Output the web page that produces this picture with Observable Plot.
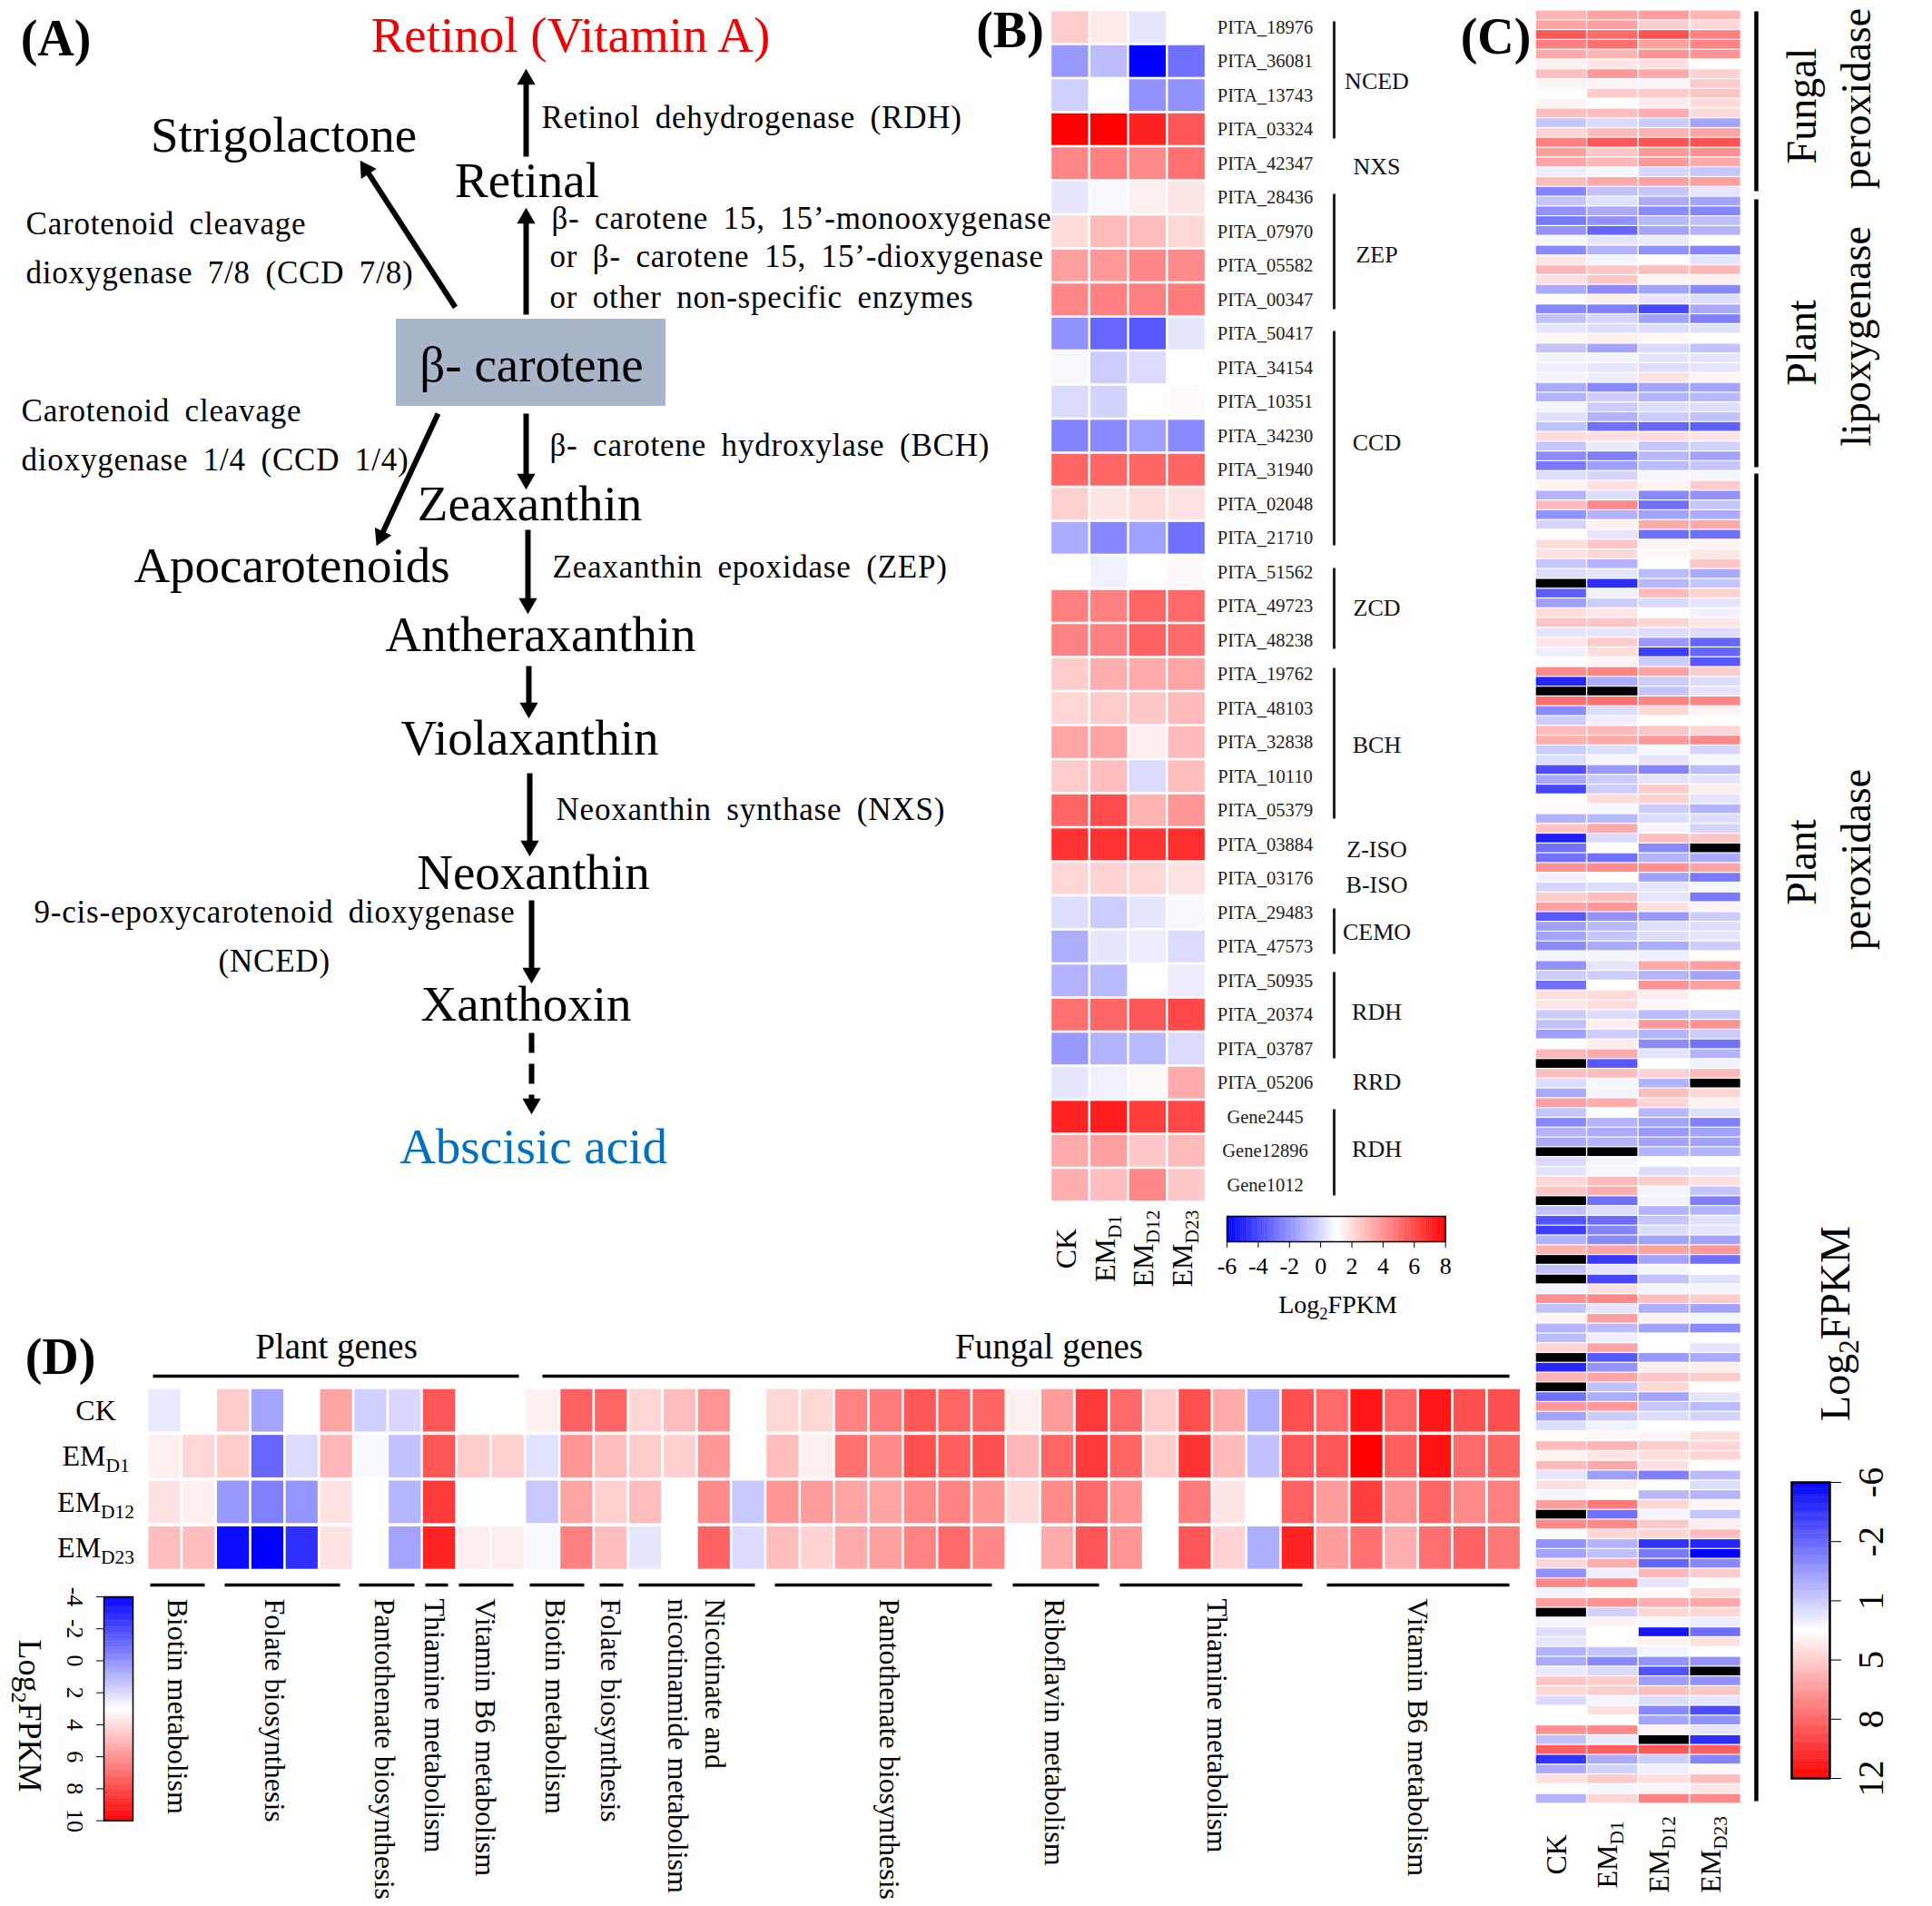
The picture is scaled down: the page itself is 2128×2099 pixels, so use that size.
<!DOCTYPE html>
<html>
<head>
<meta charset="utf-8">
<style>
html,body{margin:0;padding:0;background:#fff;}
#page{position:relative;width:2128px;height:2099px;overflow:hidden;background:#fff;}
#page>svg,#page>div{position:absolute;}
.enz text{word-spacing:7px;letter-spacing:.8px;}
</style>
<script src="https://cdn.jsdelivr.net/npm/d3@7"></script>
<script src="https://cdn.jsdelivr.net/npm/@observablehq/plot@0.6"></script>
</head>
<body>
<div id="page"></div>
<script>
const serif = "'Liberation Serif','Times New Roman',serif";
const samples = ["CK", "EMD1", "EMD12", "EMD23"];

// Panel B: carotenoid pathway genes (Log2FPKM per sample)
const geneIds = ["PITA_18976","PITA_36081","PITA_13743","PITA_03324","PITA_42347","PITA_28436","PITA_07970","PITA_05582","PITA_00347","PITA_50417","PITA_34154","PITA_10351","PITA_34230","PITA_31940","PITA_02048","PITA_21710","PITA_51562","PITA_49723","PITA_48238","PITA_19762","PITA_48103","PITA_32838","PITA_10110","PITA_05379","PITA_03884","PITA_03176","PITA_29483","PITA_47573","PITA_50935","PITA_20374","PITA_03787","PITA_05206","Gene2445","Gene12896","Gene1012"];
const geneValues = [
[2.4,1.6,.3,1],[-1.8,-.8,-6,-2.9],[-.3,1,-2,-2],[8,8,7.1,5.6],[4.3,4.5,4.2,4.9],
[.3,.8,1.4,1.7],[2,2.9,2.8,2.1],[3.6,3.8,4.3,4.2],[4.3,4.5,4.5,4.6],
[-2,-3.2,-3.6,.3],[.8,-.4,0,1],[0,-.2,1,1.1],[-2.4,-2.2,-1.6,-2.2],[5.2,5.2,5.2,5.2],[2.3,1.7,2,1.8],[-1.3,-2.3,-1.6,-2.9],
[1,.6,1,1.2],[4.5,4.5,5.2,5.1],[4.4,4.5,5.3,5.1],
[2.4,3.2,3.3,3.5],[2.1,2.4,2.5,2.9],[3.5,3.5,1.5,2.9],[2.4,2.8,0,2.8],[5.2,5.9,3.1,3.9],
[6.6,6.6,6.6,6.7],[2.1,2.2,2.1,1.8],[.1,-.4,.3,.8],[-1.2,.3,.5,0],
[-1.1,-.9,1,.5],[4.9,5.2,5.6,6],[-1.8,-1.1,-.9,0],[.3,.6,1.2,3.3],
[7,7.2,6.3,6],[3.3,3.6,2.5,2.9],[3.2,2.8,4.3,2.5]];

// Panel C: enzyme families (null = no expression, drawn black)
const fungalPeroxidase = [
[5.7,6.2,6.4,5.7],[6.2,6.4,4.8,4.4],[8.9,8.2,9.1,7.5],[7.5,8,6.4,7.3],[6,5.7,6.8,6.8],[3.5,3.9,4.1,3],
[5.3,6.6,6,4.6],[3.4,3.4,3.4,4.8],[3,4.8,4.8,5],[3.4,3,3.7,4.3],[5.3,5.3,5.9,4.3],[1,1.7,1.2,-.2],
[4.5,5.4,5.7,6.2],[7.5,8.9,9.1,9.1],[6.4,5,6.6,6.8],[6.2,5.5,6.6,6],[2.4,2.7,1.5,1],[5.3,6,6.3,6.4]];
const plantLipoxygenase = [
[-1.3,.8,1,2.1],[1,1.9,.1,-.2],[-.8,0,-1.1,-1.3],[-1.8,-.9,.5,.8],[-.8,-2.4,-.2,.3],[2.7,2.1,2.3,3],
[-1.1,.3,-.9,-1.3],[3.9,2.6,3,2.1],[5.5,5,5.3,5.5],[4.1,5,3.4,3.6],[0,-1.1,-.3,-1.2],[3,3.6,2.1,1.8],
[-1.2,-1.5,-3.5,0],[.8,1.5,-.3,-1.5],[2.1,1.8,1.8,1.9],[3.3,3.6,3.3,3],[.9,-.2,1.7,.8],[2.6,2.6,2.1,2.1],
[2.4,2.1,1.8,2.1],[2.6,2.4,4.1,3.4],[0,-1.2,-.2,-.2],[.3,1.2,.3,.5],[2.6,1.2,1.8,1.8],[1.9,.3,1.2,.8],
[.8,-2,-2.4,-2.6],[4.2,4.2,4.2,3.9],[1,2.3,1,1.4],[-1.1,-1.5,.5,-.2],[-1.7,-.4,.6,1]];
const plantPeroxidase = [
[1.8,1.5,2.7,2.7],[3.4,4.1,3.4,4.8],[.3,1.8,-1.2,-.8],[5.4,7.2,-2.1,1],[-.8,.3,-.3,.1],[1.5,3.5,6,6],
[3,2.1,-2,-2],[4.2,5,3.4,3.4],[4.1,4.4,3.3,3.9],[1,.3,3,5],[1.8,2.1,.6,0],[null,-4.4,.5,.9],
[-2.7,2.5,5.4,4.6],[-.4,1.2,1.7,2.1],[4.2,3.9,3,2.5],[5.1,5.1,4.5,3.9],[2.1,2.1,1.8,1.8],[3.9,4.8,-.6,-2.4],
[2.4,4.2,-3.8,-2.4],[3,3.4,1.2,-2.9],[7.2,7.3,6.3,4.8],[-4.7,.1,1.2,1.8],[null,null,.9,2.1],[8.1,8.1,7.3,7.3],
[-1.1,1.8,4.4,3.4],[1.2,2.4,3,3],[5.4,5.5,5,4.5],[5.9,6,6.6,7.2],[1.2,1.8,2.7,1.5],[1.8,2.7,2.1,2.7],
[-3.3,-.6,-1.3,.6],[0,1.2,2.1,2.1],[-3.5,1.2,4.8,3.6],[3,4.3,4.6,2.1],[3.2,2.7,1.2,.3],[.3,.5,1.8,1.8],
[5,6,2.7,1.5],[-4.9,1.7,5.3,5],[-2,3,-1.2,null],[-2,-2,.3,0],[6.8,7.1,6.9,6.2],[2.5,3,-.3,-1.7],
[1.5,1.8,2.1,2.7],[4.8,5.3,2.1,-1.7],[6.2,6.6,4.1,3.4],[-2.9,-.8,-.6,1.2],[-.4,.5,1.8,1.8],[-.3,1,1.8,2.1],
[-1.1,0,.1,1.2],[2.6,2.6,2.4,3],[-.8,2.1,6,6.4],[1.2,1.2,.3,-.3],[-2.1,3,6.8,6.4],[4.2,4.3,3.6,3],
[3.9,4.2,3.3,3],[1.2,1.8,.6,1],[.8,3.6,6.6,6.8],[-.4,1.2,.3,1.2],[3,3.7,-1.1,-2],[5.5,6,2.1,.3],
[null,-2.9,3,2.5],[5.3,5.3,4.6,5.4],[1.8,2.7,.3,null],[0,2.6,5.3,4.5],[6.4,5.9,4.5,3.5],[1,3,.5,1.9],
[-1.2,.3,-.3,-1.5],[.3,0,-.6,-.3],[0,.3,-.2,-.3],[null,null,.3,.3],[1.7,2.7,3,3],[2.1,2.7,1.8,2.1],
[4.4,5.4,4.8,4.1],[5,5.9,2.6,.9],[null,-2,2.6,-1.5],[.8,1.8,.3,.3],[-3.1,-2.2,1,1.9],[-3.8,-1.3,1.8,2.1],
[.3,-1.2,-.3,-.3],[5.7,6.2,6.3,6.6],[null,-4,-.3,-2],[.8,2.1,2.7,3],[null,-3.5,.8,1.9],[2.6,4.1,2.6,2.6],
[6.8,7.2,5.3,4.8],[.8,2.1,.1,-.3],[3.4,6.4,3.5,2.6],[.3,.6,-.3,-1.2],[.6,2.4,3,3],[4.5,6.2,3,2.1],
[null,-2.9,-.6,0],[-4.7,-.8,3.6,3.6],[5.7,6.2,5,4.8],[null,.8,4.4,3],[-2,.1,-.2,2.1],[6.6,6.6,1,.6],
[-.2,1.2,1.8,1.4],[1.8,2.5,3,3],[3,3.3,3.4,4.2],[5.4,5.7,4.8,4.5],[3.4,3.9,4.2,4.5],[5.4,6,4.1,3],
[2.1,-.4,-1.5,.6],[4.1,3.6,3,1.8],[2.7,3,.5,.3],[6.4,7.7,4.4,3.4],[null,-2,2.6,1],[7.2,7.2,4.8,3.6],
[3,4.5,4.5,5.4],[-.9,.3,-4.2,-4.7],[-.3,.8,-1.7,-6],[4.5,5.9,-2.4,-1.2],[-.9,2.4,5.5,4.8],[7.2,7.2,2.1,3],
[2.6,3.3,3.2,4.4],[6.4,6.8,5.9,6],[null,1.4,4.4,4.4],[2.6,3.4,2.7,2.4],[1.8,3,-5.3,-2.1],[2.1,3,3.4,4.1],
[.3,.9,2.6,3],[0,-1.2,-.8,-.8],[2.3,1.7,-3.1,null],[5,4.8,-.4,-.8],[4.4,4.8,5.3,5],[1.7,2.6,1.8,2.1],
[3,4.1,-1.2,-3.3],[3,3,-.2,-.8],[6.9,7.2,3.4,2.1],[.8,2.3,null,-4.4],[8.6,8.6,8.9,8.6],[-4.2,0,1.2,-1.3],
[.1,1.4,2.4,3.3],[4.1,4.8,4.1,5.3],[3,2.7,3.4,3.9],[.3,4.5,7.5,7.2]];

// Panel D: vitamin genes, one array per sample
const vitaminCK = [2.4,3,4.4,.5,3,5.5,1.7,1.9,7.6,3,3,3.4,7.3,7.2,4.1,4.8,5.9,3,4.1,4.1,6.4,6.6,7.6,7.2,7.2,3.4,5.7,8.4,7.1,4.4,7.8,5.3,.8,7.8,7.1,9.4,7.2,9.4,7.8,7.8];
const vitaminD1 = [3.4,4.1,4.4,-1.2,2,5,2.8,1.3,7.6,4.4,4.3,2.2,5.9,4.8,4.4,4.3,5.8,3,4.8,3.4,6.9,6.2,7.8,7.4,7.8,5,7.2,8.4,7.2,4.4,8.6,4.9,1.3,7.6,7.6,10,7.4,9.5,7.1,7.2];
const vitaminD12 = [3.8,3.4,.2,-.5,.1,3.8,3,1,8.4,3,3,1.5,5.5,4.3,4.8,3,6.2,1.5,5.9,5.7,5.5,5.5,6.2,6.4,5.9,4,6.2,7.1,5.9,3,6.6,3.7,3,7.3,5.7,8.3,6,7.2,6.2,6.5];
const vitaminD23 = [4.8,4.8,-3.7,-4,-2.7,3.8,3,.5,9,3.5,3.5,2.8,6.5,4.8,2.3,3,7.3,2,4.8,4.2,5.3,5.6,6.4,7.1,6.3,3,5.3,7.6,5.9,3,7.6,4.2,.8,9,5.7,6.9,5.2,6.9,7.3,6.7];

// Legend ticks
const ticksB = [-6,-4,-2,0,2,4,6,8];
const ticksC = [-6,-2.4,1.2,4.8,8.4,12];
const ticksD = [-4,-2,0,2,4,6,8,10];

// Diagram layout: [text, x, y, colour]
const nodeLayout = [
["Retinol (Vitamin A)",628,39,"#f00000"],["Strigolactone",312,149,"#000"],["Retinal",580,199,"#000"],
["β- carotene",585,402,"#000"],["Zeaxanthin",583,555,"#000"],["Apocarotenoids",321,623,"#000"],
["Antheraxanthin",595,699,"#000"],["Violaxanthin",583,813,"#000"],["Neoxanthin",587,961,"#000"],
["Xanthoxin",579,1106,"#000"],["Abscisic acid",587,1263,"#0070c0"]];
const enzymeLayout = [
["Retinol dehydrogenase (RDH)",596,129],["Carotenoid cleavage",28,246],["dioxygenase 7/8 (CCD 7/8)",28,300],
["β- carotene 15, 15’-monooxygenase",607,240],["or β- carotene 15, 15’-dioxygenase",605,282],["or other non-specific enzymes",605,327],
["Carotenoid cleavage",23,452],["dioxygenase 1/4 (CCD 1/4)",23,506],["β- carotene hydroxylase (BCH)",605,490],
["Zeaxanthin epoxidase (ZEP)",608,624],["Neoxanthin synthase (NXS)",612,891],
["9-cis-epoxycarotenoid dioxygenase",37,1004],["(NCED)",240,1058]];
const arrowLayout = [
[579,172,579,75,0],[579,346,579,228,0],[501,338,396,176,0],[482,455,414,601,0],[579,455,579,539,0],
[581,583,581,676,0],[582,733,582,791,0],[583,851,583,943,0],[585,991,585,1083,0],[585,1137,585,1227,1]];
const panelTags = [["(A)",61,43],["(B)",1112,34],["(C)",1647,41],["(D)",66,1495]];

// Gene-family brackets of panel B and their labels
const familyBrackets = [[23,152],[213,340],[364,600],[625,714],[735,901],[1000,1050],[1070,1165],[1221,1316]];
const familyLabels = [["NCED",89],["NXS",183],["ZEP",280],["CCD",487],["ZCD",669],["BCH",820],["Z-ISO",935],["B-ISO",974],["CEMO",1026],["RDH",1114],["RRD",1191],["RDH",1265]];
// Panel C brackets and labels
const classBrackets = [[12,210],[219,514],[521,1983]];
const classLabels = [["Fungal",1985,116],["peroxidase",2045,108],["Plant",1985,377],["lipoxygenase",2045,370],["Plant",1985,949],["peroxidase",2045,946],["Log2FPKM",2022,1457]];
// Panel D group bars and labels
const geneGroups = [["Plant genes",370,168,571],["Fungal genes",1155,597,1662]];
const pathwayBars = [[165,225],[247,374],[395,456],[468,493],[505,565],[583,643],[660,686],[703,831],[853,1092],[1115,1210],[1233,1434],[1461,1662]];
const pathwayLabels = [["Biotin metabolism",195],["Folate biosynthesis",302],["Pantothenate biosynthesis",423],["Thiamine metabolism",478],["Vitamin B6 metabolism",534],["Biotin metabolism",611],["Folate biosynthesis",672],["nicotinamide metabolism",746],["Nicotinate and",787],["Pantothenate biosynthesis",979],["Riboflavin metabolism",1161],["Thiamine metabolism",1340],["Vitamin B6 metabolism",1561]];

const page = document.getElementById("page");
function place(svg, left, top) {
  svg.style.left = left + "px"; svg.style.top = top + "px";
  svg.style.maxWidth = "none"; svg.style.overflow = "visible";
  page.appendChild(svg);
}
const base = {background: "transparent", fontFamily: serif, overflow: "visible"};
const scaleColor = (lo, mid, hi) => ({type: "linear", domain: [lo, mid, hi], range: ["#0000ff", "#ffffff", "#ff0000"]});
const tidy = (rows, keys) => rows.flatMap((r, i) => samples.map((s, j) => ({row: keys[i], sample: s, value: r[j]})));

// ----- Panel B heat map
const cellsB = tidy(geneValues, geneIds);
place(Plot.plot({
  style: base, width: 171 + 140, height: 1312.5 + 110,
  marginLeft: 0, marginTop: 0, marginRight: 140, marginBottom: 110,
  x: {domain: samples, padding: 0, round: false, axis: null},
  y: {domain: geneIds, padding: 0, round: false, axis: null},
  color: scaleColor(-6, 1, 8),
  marks: [
    Plot.cell(cellsB, {x: "sample", y: "row", fill: "value", insetLeft: 1.2, insetRight: 1.2, insetTop: 1.3, insetBottom: 1.3}),
    Plot.text(geneIds, {y: d => d, text: d => d, frameAnchor: "right", dx: 65, textAnchor: "middle", fontSize: 20.5, fill: "#222"}),
    Plot.text(samples, {x: d => d, text: d => d, frameAnchor: "bottom", dx: 6, dy: 51, rotate: -90, textAnchor: "middle", fontSize: 32})
  ]
}), 1156.5, 10.5);

// ----- Panel C heat map
const rowsC = [...fungalPeroxidase, ...plantLipoxygenase, ...plantPeroxidase];
const keysC = d3.range(rowsC.length);
const cellsC = tidy(rowsC, keysC);
place(Plot.plot({
  style: base, width: 226.4, height: 1975 + 110,
  marginLeft: 0, marginTop: 0, marginRight: 0, marginBottom: 110,
  x: {domain: samples, padding: 0, round: false, axis: null},
  y: {domain: keysC, padding: 0, round: false, axis: null},
  color: scaleColor(-6, 3, 12),
  marks: [
    Plot.cell(cellsC, {x: "sample", y: "row", fill: "value", insetLeft: .7, insetRight: .7, insetTop: .6, insetBottom: .6}),
    Plot.cell(cellsC.filter(d => d.value == null), {x: "sample", y: "row", fill: "black", insetLeft: .7, insetRight: .7, insetTop: .6, insetBottom: .6}),
    Plot.text(samples, {x: d => d, text: d => d, frameAnchor: "bottom", dx: 5, dy: 56, rotate: -90, textAnchor: "middle", fontSize: 32})
  ]
}), 1691, 10.5);

// ----- Panel D heat map
const vitaminColumns = d3.range(vitaminCK.length);
const cellsD = [vitaminCK, vitaminD1, vitaminD12, vitaminD23].flatMap((series, j) => series.map((v, i) => ({column: i, sample: samples[j], value: v})));
place(Plot.plot({
  style: base, width: 1513.3 + 120, height: 201.5,
  marginLeft: 120, marginTop: 0, marginRight: 0, marginBottom: 0,
  x: {domain: vitaminColumns, padding: 0, round: false, axis: null},
  y: {domain: samples, padding: 0, round: false, axis: null},
  color: scaleColor(-4, 3, 10),
  marks: [
    Plot.cell(cellsD, {x: "column", y: "sample", fill: "value", insetLeft: 1.3, insetRight: 1.3, insetTop: 1.8, insetBottom: 1.8}),
    Plot.text(samples, {y: d => d, text: d => d, frameAnchor: "left", dx: -57, textAnchor: "middle", fontSize: 32})
  ]
}), 161.7 - 120, 1527.5);

// ----- Colour legends
place(Plot.plot({
  style: base, width: 240.7 + 60, height: 28 + 55,
  marginLeft: 30, marginRight: 30, marginTop: 0, marginBottom: 55,
  x: {domain: [-6, 8]}, y: {axis: null},
  color: scaleColor(-6, 1, 8),
  marks: [
    Plot.rect(d3.range(-6, 8, .1), {x1: d => d, x2: d => d + .12, fill: d => d}),
    Plot.frame({stroke: "black", strokeWidth: 1.5}),
    Plot.axisX(ticksB, {anchor: "bottom", tickSize: 7, tickPadding: 10, fontSize: 26, label: null, tickFormat: d => String(d)})
  ]
}), 1351 - 30, 1339);
place(Plot.plot({
  style: base, width: 42 + 130, height: 326 + 50,
  marginLeft: 0, marginRight: 130, marginTop: 25, marginBottom: 25,
  y: {domain: [-6, 12], reverse: true}, x: {axis: null},
  color: scaleColor(-6, 3, 12),
  marks: [
    Plot.rect(d3.range(-6, 12, .1), {y1: d => d, y2: d => d + .12, fill: d => d}),
    Plot.frame({stroke: "black", strokeWidth: 2.5}),
    Plot.axisY(ticksC, {anchor: "right", tickSize: 12, tickPadding: 46, tickRotate: -90, textAnchor: "middle", fontSize: 40, label: null, tickFormat: d => String(Math.round(d))})
  ]
}), 1973, 1632 - 25);
place(Plot.plot({
  style: base, width: 32 + 80, height: 246.6 + 40,
  marginLeft: 80, marginRight: 0, marginTop: 20, marginBottom: 20,
  y: {domain: [-4, 10], reverse: true}, x: {axis: null},
  color: scaleColor(-4, 3, 10),
  marks: [
    Plot.rect(d3.range(-4, 10, .1), {y1: d => d, y2: d => d + .12, fill: d => d}),
    Plot.frame({stroke: "black", strokeWidth: 1.5}),
    Plot.axisY(ticksD, {anchor: "left", tickSize: 8, tickPadding: 14, tickRotate: 90, textAnchor: "middle", fontSize: 26, label: null, tickFormat: d => String(d)})
  ]
}), 113.7 - 80, 1758 - 20);

// ----- Annotation layer: diagram, brackets, labels (positions are in page pixels)
const heads = arrowLayout.map(([x1, y1, x2, y2, dashed]) => {
  const len = Math.hypot(x2 - x1, y2 - y1), ux = (x2 - x1) / len, uy = (y2 - y1) / len;
  return {x1, y1, x: x2 - ux * 12, y: y2 - uy * 12, bx: x2 - ux * 16, by: y2 - uy * 16,
          angle: Math.atan2(ux, -uy) * 180 / Math.PI, dashed};
});
const ident = {type: "identity", axis: null};
place(Plot.plot({
  style: base, width: 2128, height: 2099, margin: 0, x: ident, y: ident,
  marks: [
    Plot.rect([0], {x1: 436, x2: 733, y1: 351, y2: 447, fill: "#a9b6ca"}),
    Plot.link(heads.filter(d => !d.dashed), {x1: "x1", y1: "y1", x2: "bx", y2: "by", stroke: "black", strokeWidth: 6}),
    Plot.link(heads.filter(d => d.dashed), {x1: "x1", y1: "y1", x2: "bx", y2: "by", stroke: "black", strokeWidth: 6, strokeDasharray: "22,12"}),
    Plot.dot(heads, {x: "x", y: "y", symbol: "triangle", r: 7.5, rotate: "angle", fill: "black", stroke: "none"}),
    Plot.text(nodeLayout, {x: d => d[1], y: d => d[2], text: d => d[0], fill: d => d[3], fontSize: 55, textAnchor: "middle"}),
    Plot.text(enzymeLayout, {x: d => d[1], y: d => d[2], text: d => d[0], fontSize: 35, textAnchor: "start", className: "enz"}),
    Plot.text(panelTags, {x: d => d[1], y: d => d[2], text: d => d[0], fontSize: 56, fontWeight: "bold", textAnchor: "middle"}),
    // panel B
    Plot.link(familyBrackets, {x1: 1469, x2: 1469, y1: d => d[0], y2: d => d[1], stroke: "#222", strokeWidth: 3}),
    Plot.text(familyLabels, {x: 1516, y: d => d[1], text: d => d[0], fontSize: 26, textAnchor: "middle", fill: "#111"}),
    Plot.text(["Log2FPKM"], {x: 1473, y: 1437, text: d => d, fontSize: 28, textAnchor: "middle"}),
    // panel C
    Plot.link(classBrackets, {x1: 1934, x2: 1934, y1: d => d[0], y2: d => d[1], stroke: "black", strokeWidth: 4.5}),
    Plot.text(classLabels, {x: d => d[1], y: d => d[2], text: d => d[0], fontSize: 46, rotate: -90, textAnchor: "middle"}),
    // panel D
    Plot.link(geneGroups, {x1: d => d[2], x2: d => d[3], y1: 1515, y2: 1515, stroke: "black", strokeWidth: 3.5}),
    Plot.text(geneGroups, {x: d => d[1], y: 1483, text: d => d[0], fontSize: 39, textAnchor: "middle"}),
    Plot.link(pathwayBars, {x1: d => d[0], x2: d => d[1], y1: 1745, y2: 1745, stroke: "black", strokeWidth: 3.5}),
    Plot.text(pathwayLabels, {x: d => d[1], y: 1760, text: d => d[0], fontSize: 32, rotate: 90, textAnchor: "start"}),
    Plot.text(["Log2FPKM"], {x: 32, y: 1889, text: d => d, fontSize: 36, rotate: 90, textAnchor: "middle"})
  ]
}), 0, 0);

// ----- Subscripts in the sample and unit labels
const subPattern = /^(EM)(D\d+)$|^(Log)(2)(FPKM)$/;
page.querySelectorAll("text").forEach(t => {
  const m = t.textContent.match(subPattern);
  if (!m) return;
  const fs = parseFloat(getComputedStyle(t).fontSize);
  const parts = m[1] ? [m[1], m[2]] : [m[3], m[4], m[5]];
  t.textContent = "";
  parts.forEach((p, i) => {
    const s = document.createElementNS("http://www.w3.org/2000/svg", "tspan");
    s.textContent = p;
    if (i === 1) { s.setAttribute("font-size", fs * .67); s.setAttribute("dy", fs * .22); }
    if (i === 2) { s.setAttribute("dy", -fs * .22); }
    t.appendChild(s);
  });
});
</script>
</body>
</html>
